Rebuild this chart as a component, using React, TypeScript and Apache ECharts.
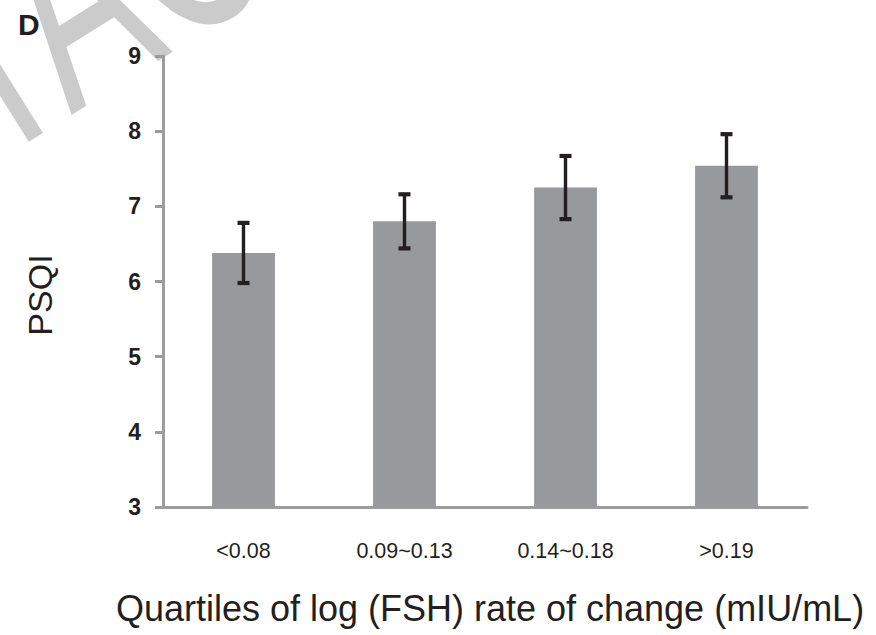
import React, { useEffect, useRef } from "react";
import * as echarts from "echarts";

// Quartile groups and PSQI means with their error half-widths
const categories = ["<0.08", "0.09~0.13", "0.14~0.18", ">0.19"];
const psqiMean = [6.38, 6.8, 7.25, 7.54];
const psqiError = [0.4, 0.36, 0.42, 0.42];

// Y axis range
const yMin = 3;
const yMax = 9;
const yStep = 1;

const FONT = '"Liberation Sans", Arial, Helvetica, sans-serif';
const AXIS_GRAY = "#9c9c9e";
const TEXT_DARK = "#231f20";

export default function App() {
  const ref = useRef<HTMLDivElement>(null);

  useEffect(() => {
    document.body.style.margin = "0";
    if (!ref.current) return;
    const chart = echarts.init(ref.current, undefined, { renderer: "svg" });

    const errorData = psqiMean.map((m, i) => [i, m - psqiError[i], m + psqiError[i]]);

    chart.setOption({
      animation: false,
      backgroundColor: "#ffffff",
      grid: { left: 163, right: 69, top: 56, bottom: 128, containLabel: false },
      xAxis: {
        type: "category",
        data: categories,
        axisLine: { show: true, lineStyle: { color: AXIS_GRAY, width: 3 } },
        axisTick: { show: false },
        axisLabel: {
          margin: 33,
          fontSize: 21.5,
          fontFamily: FONT,
          color: TEXT_DARK,
        },
        splitLine: { show: false },
      },
      yAxis: {
        type: "value",
        min: yMin,
        max: yMax,
        interval: yStep,
        axisLine: { show: true, lineStyle: { color: AXIS_GRAY, width: 3 } },
        axisTick: { show: true, length: 8, lineStyle: { color: AXIS_GRAY, width: 3 } },
        axisLabel: {
          margin: 22,
          fontSize: 23,
          fontWeight: "bold",
          fontFamily: FONT,
          color: TEXT_DARK,
        },
        splitLine: { show: false },
      },
      series: [
        {
          type: "bar",
          data: psqiMean,
          barWidth: "39%",
          itemStyle: { color: "#98999d" },
          z: 2,
        },
        {
          // Error bars: vertical stem with a cap at each end
          type: "custom",
          data: errorData,
          encode: { x: 0, y: [1, 2] },
          z: 5,
          renderItem: (params: any, api: any) => {
            const x = api.value(0);
            const lo = api.coord([x, api.value(1)]);
            const hi = api.coord([x, api.value(2)]);
            const half = 6;
            const style = { stroke: "#231f20", lineWidth: 3.4 };
            const capStyle = { stroke: "#231f20", lineWidth: 4.2 };
            return {
              type: "group",
              children: [
                { type: "line", shape: { x1: hi[0], y1: hi[1], x2: lo[0], y2: lo[1] }, style },
                { type: "line", shape: { x1: hi[0] - half, y1: hi[1], x2: hi[0] + half, y2: hi[1] }, style: capStyle },
                { type: "line", shape: { x1: lo[0] - half, y1: lo[1], x2: lo[0] + half, y2: lo[1] }, style: capStyle },
              ],
            };
          },
        },
      ],
      graphic: [
        {
          // Diagonal watermark lettering in the top-left corner
          type: "text",
          x: -66,
          y: 78,
          rotation: (32 * Math.PI) / 180,
          scaleX: 0.6,
          z: -10,
          silent: true,
          style: {
            text: "TAC",
            fontSize: 300,
            fontFamily: FONT,
            fill: "#cbcbcb",
            align: "left",
            verticalAlign: "middle",
          },
        },
        {
          type: "text",
          x: 18,
          y: 24,
          z: 10,
          style: {
            text: "D",
            fontSize: 30,
            fontWeight: "bold",
            fontFamily: FONT,
            fill: TEXT_DARK,
            align: "left",
            verticalAlign: "middle",
          },
        },
        {
          type: "text",
          x: 40,
          y: 295,
          rotation: Math.PI / 2,
          z: 10,
          style: {
            text: "PSQI",
            fontSize: 34,
            fontFamily: FONT,
            fill: TEXT_DARK,
            align: "center",
            verticalAlign: "middle",
          },
        },
        {
          type: "text",
          x: 490,
          y: 608,
          z: 10,
          style: {
            text: "Quartiles of log (FSH) rate of change (mIU/mL)",
            fontSize: 36,
            fontFamily: FONT,
            fill: TEXT_DARK,
            align: "center",
            verticalAlign: "middle",
          },
        },
      ],
    });

    return () => chart.dispose();
  }, []);

  return <div ref={ref} style={{ width: 876, height: 635 }} />;
}
